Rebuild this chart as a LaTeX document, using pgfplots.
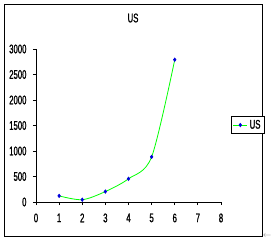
\documentclass[border=0pt]{standalone}
\usepackage{pgfplots}
\pgfplotsset{compat=1.18}
\usepackage{fontspec}
\setmainfont{Liberation Sans}[FakeStretch=0.62, FakeBold=1.2]
\definecolor{exgreen}{RGB}{0,255,0}
\definecolor{exblue}{RGB}{0,0,220}
\begin{document}
\begin{tikzpicture}[x=1pt,y=1pt]
\useasboundingbox (0,0) rectangle (271,-241);
\draw[black, line width=0.9pt] (4,-4) rectangle (262,-236);
\node[font=\fontsize{12.5}{12.5}\selectfont] at (133,-18) {US};
\node[gray, font=\fontsize{8}{8}\selectfont] at (267,-236) {$\leftarrow$};
\begin{axis}[
  at={(36pt,-202pt)}, anchor=south west,
  width=185pt, height=153pt, scale only axis,
  xmin=0, xmax=8, ymin=0, ymax=3000,
  xtick={0,1,...,8}, ytick={0,500,...,3000},
  axis x line*=bottom, axis y line*=left,
  axis line style={-, line width=0.8pt},
  tick align=outside, major tick length=3pt,
  tick style={black, line width=0.8pt},
  scaled y ticks=false,
  /pgf/number format/assume math mode=true,
  /pgf/number format/set thousands separator={},
  tick label style={font=\fontsize{12.5}{12.5}\selectfont},
  yticklabel style={xshift=-3pt},
  xticklabel style={yshift=-5pt},
  legend style={at={(1.054,0.562)}, anchor=north west, draw=black, line width=0.8pt,
    inner sep=1.5pt, font=\fontsize{12.5}{12.5}\selectfont, legend cell align=left},
  legend image code/.code={\draw[mark repeat=2,mark phase=2,#1] plot coordinates {(0pt,0pt) (7pt,0pt) (14pt,0pt)};},
]
\addplot[exgreen, line width=0.8pt, smooth, tension=0.5, mark=diamond*, mark size=1.6pt,
  mark options={exblue, fill=exblue}] coordinates {
  (1,120) (2,45) (3,205) (4,455) (5,885) (6,2790)
};
\addlegendentry{US}
\end{axis}
\end{tikzpicture}
\end{document}
